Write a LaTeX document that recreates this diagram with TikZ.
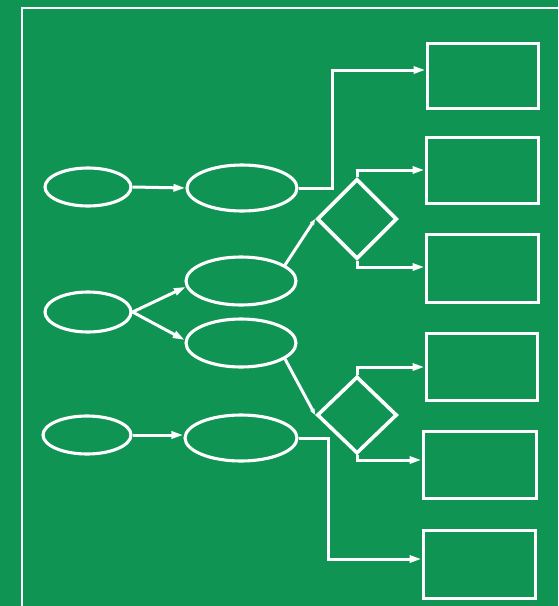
\documentclass[tikz,border=0pt]{standalone}
\usetikzlibrary{shapes.geometric,arrows.meta}
\definecolor{bg}{RGB}{16,148,84}
\begin{document}
\begin{tikzpicture}[x=1pt,y=-1pt,
  wl/.style={white,line width=3pt},
  ell/.style={ellipse,draw=white,line width=3.1pt,inner sep=0pt},
  box/.style={rectangle,draw=white,line width=3pt,inner sep=0pt},
  dia/.style={diamond,draw=white,line width=3.6pt,inner sep=0pt,minimum width=80pt},
  arr/.style={wl,-{Triangle[length=12pt,width=7pt]}},
  sarr/.style={wl,-{Triangle[length=6pt,width=4.5pt]}}]
\fill[bg] (0,0) rectangle (558,606);
\useasboundingbox (0,0) rectangle (558,606);
\coordinate (f1) at (22,606);
\coordinate (f2) at (22,8);
\coordinate (f3) at (558,8);
\draw[white,line width=2.8pt] (f1) -- (f2) -- (f3);
% ellipses
\node[ell,minimum width=86pt,minimum height=38pt] (E1) at (88,187) {};
\node[ell,minimum width=110pt,minimum height=46pt] (E2) at (242,188) {};
\node[ell,minimum width=86pt,minimum height=40pt] (E3) at (88,312) {};
\node[ell,minimum width=110pt,minimum height=48pt] (E4) at (241,281) {};
\node[ell,minimum width=110pt,minimum height=48pt] (E5) at (241,343) {};
\node[ell,minimum width=88pt,minimum height=38pt] (E6) at (87,435) {};
\node[ell,minimum width=112pt,minimum height=46pt] (E7) at (241,438) {};
% boxes
\node[box,minimum width=111pt,minimum height=65pt] (R1) at (482.5,75.5) {};
\node[box,minimum width=112pt,minimum height=66pt] (R2) at (482,170) {};
\node[box,minimum width=112pt,minimum height=68pt] (R3) at (482,268) {};
\node[box,minimum width=111pt,minimum height=67pt] (R4) at (481.5,366.5) {};
\node[box,minimum width=113pt,minimum height=67pt] (R5) at (479.5,464.5) {};
\node[box,minimum width=112pt,minimum height=68pt] (R6) at (479,564) {};
% diamonds
\node[dia,minimum height=80pt] (D1) at (357,219) {};
\node[dia,minimum height=77pt] (D2) at (357,415) {};
% junction coordinates
\coordinate (j1) at (332,70);
\coordinate (j2) at (357,170);
\coordinate (j3) at (357,267);
\coordinate (j4) at (357,367);
\coordinate (j5) at (357,460);
\coordinate (j6) at (328,559);
% connectors
\draw[arr] (E1.east) -- (E2.west);
\draw[arr] (E6.east) -- (E7.west |- E6.east);
\draw[arr] (E3.east) -- (E4.186);
\draw[arr] (E3.east) -- (E5.177);
\draw[arr] (E2.east) -| (j1) -- (j1 -| R1.west);
\draw[arr] (D1.north) -- (j2) -- (j2 -| R2.west);
\draw[arr] (D1.south) -- (j3) -- (j3 -| R3.west);
\draw[arr] (D2.north) -- (j4) -- (j4 -| R4.west);
\draw[arr] (D2.south) -- (j5) -- (j5 -| R5.west);
\draw[arr] (E7.east) -| (j6) -- (j6 -| R6.west);
\draw[sarr] (E4.20) -- (D1.west);
\draw[sarr] (E5.-20) -- (D2.west);
\end{tikzpicture}
\end{document}
